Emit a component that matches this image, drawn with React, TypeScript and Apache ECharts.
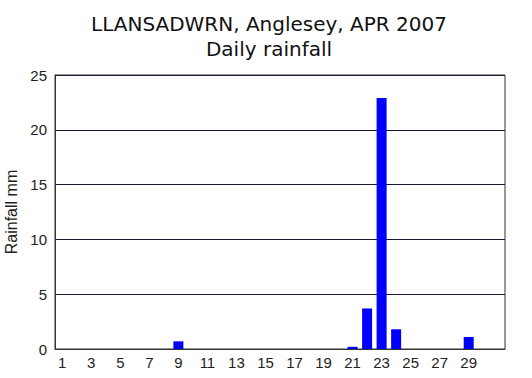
import React, { useEffect, useRef } from "react";
import * as echarts from "echarts";

const days: string[] = Array.from({ length: 31 }, (_, i) => String(i + 1));
const rainfall: number[] = [
  0, 0, 0, 0, 0, 0, 0, 0, 0.7, 0,
  0, 0, 0, 0, 0, 0, 0, 0, 0, 0,
  0.2, 3.7, 22.9, 1.8, 0, 0, 0, 0, 1.1, 0,
  0,
];
const titleText = "LLANSADWRN, Anglesey, APR 2007\nDaily rainfall";
const yName = "Rainfall mm";
const tickFont = "'Liberation Sans', Arial, sans-serif";

export default function App() {
  const ref = useRef<HTMLDivElement>(null);
  useEffect(() => {
    document.body.style.margin = "0";
    const chart = echarts.init(ref.current!, null, { renderer: "svg" });
    chart.setOption({
      animation: false,
      backgroundColor: "#ffffff",
      title: {
        text: titleText,
        left: 264,
        top: 6,
        textAlign: "center",
        textStyle: {
          fontFamily: "DejaVu Sans",
          fontSize: 20,
          fontWeight: "normal",
          color: "#111",
          lineHeight: 25,
        },
      },
      grid: {
        left: 55,
        right: 27,
        top: 75,
        bottom: 29,
        containLabel: false,
        outerBoundsMode: "none",
        show: true,
        borderColor: "#333",
        borderWidth: 1,
      },
      xAxis: {
        type: "category",
        data: days,
        axisLine: { show: true, lineStyle: { color: "#333" } },
        axisTick: { show: false },
        axisLabel: {
          interval: 0,
          margin: 6,
          fontFamily: tickFont,
          fontSize: 15,
          color: "#222",
          formatter: (v: string) => {
            const n = Number(v);
            return n % 2 === 1 && n <= 29 ? v : "";
          },
        },
      },
      yAxis: {
        type: "value",
        min: 0,
        max: 25,
        interval: 5,
        name: yName,
        nameLocation: "middle",
        nameGap: 31,
        nameTextStyle: { fontFamily: tickFont, fontSize: 16, color: "#222" },
        axisLine: { show: true, lineStyle: { color: "#333" } },
        axisTick: { show: false },
        axisLabel: { margin: 8, fontFamily: tickFont, fontSize: 15, color: "#222" },
        splitLine: { show: true, lineStyle: { color: "#1a1a3a", width: 1 } },
      },
      series: [
        {
          type: "bar",
          data: rainfall,
          barWidth: 10,
          itemStyle: { color: "#0000ff" },
        },
      ],
    });
    return () => chart.dispose();
  }, []);
  return <div ref={ref} style={{ width: 532, height: 378 }} />;
}
